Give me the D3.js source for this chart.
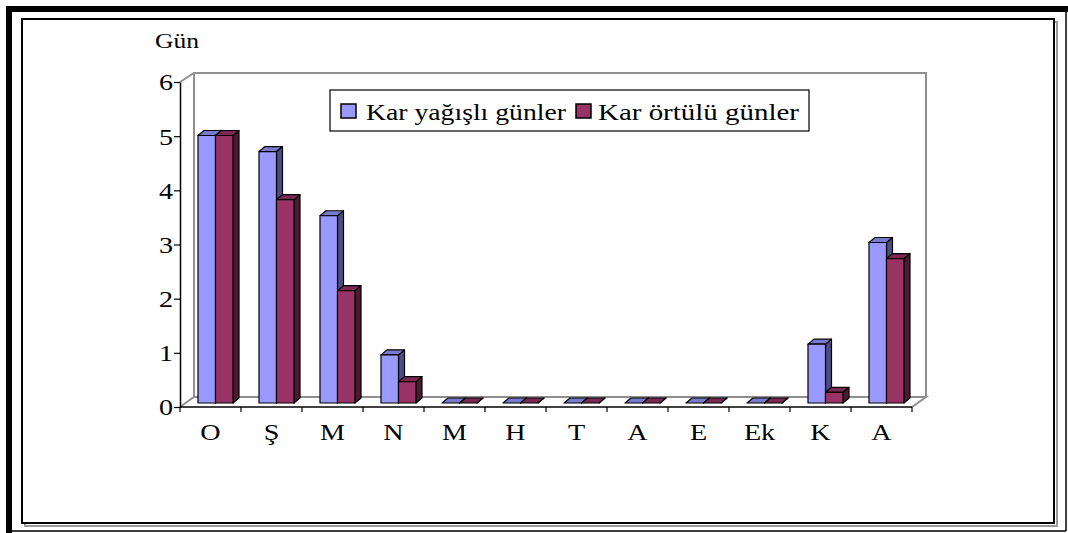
<!DOCTYPE html>
<html><head><meta charset="utf-8">
<script src="https://cdn.jsdelivr.net/npm/d3@7"></script>
<style>
html,body{margin:0;padding:0;background:#fff;}
svg{display:block;}
text{font-family:"Liberation Serif","Times New Roman",serif;fill:#000;}
</style></head>
<body>
<svg id="c" width="1068" height="533"></svg>
<script>
const categories = ["O","Ş","M","N","M","H","T","A","E","Ek","K","A"];
const snowfallDays = [5.0,4.7,3.5,0.9,0,0,0,0,0,0,1.1,3.0];
const snowCoverDays = [5.0,3.8,2.1,0.4,0,0,0,0,0,0,0.2,2.7];
const seriesNames = ["Kar yağışlı günler","Kar örtülü günler"];
const yTicks = [0,1,2,3,4,5,6];
const yTitle = "Gün";

const svg = d3.select("#c");
const stretch = 1.25;

// page frame
svg.append("rect").attr("x",6).attr("y",6).attr("width",1062).attr("height",6).attr("fill","#000");
svg.append("rect").attr("x",6).attr("y",6).attr("width",6).attr("height",527).attr("fill","#000");
svg.append("line").attr("x1",1066).attr("y1",12).attr("x2",1066).attr("y2",531).attr("stroke","#000").attr("stroke-width",1.5);
svg.append("line").attr("x1",12).attr("y1",531).attr("x2",1066).attr("y2",531).attr("stroke","#000").attr("stroke-width",1.5);
// inner box with shadow
svg.append("rect").attr("x",25).attr("y",22).attr("width",1032).attr("height",504).attr("fill","none").attr("stroke","#9a9a9a").attr("stroke-width",2);
svg.append("rect").attr("x",22).attr("y",19).attr("width",1032).attr("height",504).attr("fill","#fff").attr("stroke","#000").attr("stroke-width",2);

// geometry
const x0 = 180, x1 = 912, yTop = 82, yBase = 407;
const wallDx = 14, wallDy = 10;
const y = d3.scaleLinear().domain([0,6]).range([yBase, yTop]);
const yBar = d3.scaleLinear().domain([0,6]).range([yBase-4, yTop]);
const idx = categories.map((d,i)=>i);
const xb = d3.scaleBand().domain(idx).range([x0,x1]).paddingInner(0.426).paddingOuter(0.213);
const barShift = 5;
const bw = xb.bandwidth()/2;
const bDx = 6, bDy = 5;

const grey = "#8f8f8f";
// back wall & floor
const g = svg.append("g");
g.append("polyline").attr("points",[[x0,yBase],[x0+wallDx,yBase-wallDy],[x1+wallDx,yBase-wallDy],[x1,yBase]].join(" "))
  .attr("fill","none").attr("stroke",grey).attr("stroke-width",2);
g.append("polyline").attr("points",[[x0,yTop],[x0+wallDx,yTop-wallDy+1],[x1+wallDx,yTop-wallDy+1],[x1+wallDx,yBase-wallDy]].join(" "))
  .attr("fill","none").attr("stroke",grey).attr("stroke-width",2);
g.append("line").attr("x1",x0+wallDx).attr("y1",yTop-wallDy+1).attr("x2",x0+wallDx).attr("y2",yBase-wallDy)
  .attr("stroke",grey).attr("stroke-width",2);

// bars
const series = [
  {vals:snowfallDays, front:"#9999ff", side:"#4d4d85", top:"#7a7acc"},
  {vals:snowCoverDays, front:"#993366", side:"#4d1a33", top:"#7a2952"}
];
const bars = svg.append("g").attr("stroke","#000").attr("stroke-width",1.2).attr("stroke-linejoin","round");
series.forEach((s,si)=>{
  s.vals.forEach((v,i)=>{
    const L = xb(i)+barShift+si*bw, R = L+bw;
    const T = yBar(v), B = yBar(0);
    bars.append("polygon").attr("points",[[R,T],[R+bDx,T-bDy],[R+bDx,B-bDy],[R,B]].join(" ")).attr("fill",s.side);
    bars.append("polygon").attr("points",[[L,T],[L+bDx,T-bDy],[R+bDx,T-bDy],[R,T]].join(" ")).attr("fill",s.top);
    if (B-T>0) bars.append("rect").attr("x",L).attr("y",T).attr("width",bw).attr("height",B-T).attr("fill",s.front);
  });
});

// y axis
const ya = svg.append("g").attr("transform",`translate(${x0},0)`)
  .call(d3.axisLeft(y).tickValues(yTicks).tickSize(6).tickSizeOuter(0).tickPadding(2).tickFormat(d3.format("d")));
ya.select(".domain").attr("stroke","#000").attr("stroke-width",1.5);
ya.selectAll(".tick line").attr("stroke","#000").attr("stroke-width",1.2);
ya.selectAll(".tick text").attr("font-size","22.5px").attr("font-family","Liberation Serif")
  .attr("x",-7/stretch).attr("dy","0.35em").attr("transform",`scale(${stretch},1)`);

// x axis
const xa = svg.append("g").attr("transform",`translate(0,${yBase})`)
  .call(d3.axisBottom(xb).tickSize(0).tickPadding(14).tickFormat(i=>categories[i]));
xa.select(".domain").remove();
xa.selectAll(".tick").attr("transform",d=>`translate(${xb(d)+xb.bandwidth()/2},0)`);
xa.selectAll(".tick text").attr("font-size","22.5px").attr("font-family","Liberation Serif")
  .attr("y",33).attr("dy",0).attr("transform",`scale(${stretch},1)`);
svg.append("line").attr("x1",x0).attr("y1",yBase).attr("x2",x1).attr("y2",yBase).attr("stroke","#000").attr("stroke-width",1.5);
const bounds = d3.range(categories.length+1).map(k=>x0+k*xb.step());
svg.append("g").selectAll("line").data(bounds).join("line")
  .attr("x1",d=>d).attr("x2",d=>d).attr("y1",yBase).attr("y2",yBase+5)
  .attr("stroke","#000").attr("stroke-width",1.2);

// y title
svg.append("text").attr("x",155).attr("y",48).attr("font-size","20px").attr("textLength",44).attr("lengthAdjust","spacingAndGlyphs").text(yTitle);

// legend
const lg = svg.append("g");
lg.append("rect").attr("x",330).attr("y",90).attr("width",479).attr("height",41).attr("fill","#fff").attr("stroke","#000").attr("stroke-width",1.2);
const legItems = [
  {x:341, tx:366, tw:200, c:series[0].front},
  {x:576, tx:598, tw:201, c:series[1].front}
];
legItems.forEach((it,k)=>{
  lg.append("rect").attr("x",it.x).attr("y",104).attr("width",15).attr("height",14).attr("fill",it.c).attr("stroke","#000").attr("stroke-width",1.5);
  lg.append("text").attr("x",it.tx).attr("y",120).attr("font-size","23px").attr("textLength",it.tw).attr("lengthAdjust","spacingAndGlyphs").text(seriesNames[k]);
});
</script>
</body></html>
